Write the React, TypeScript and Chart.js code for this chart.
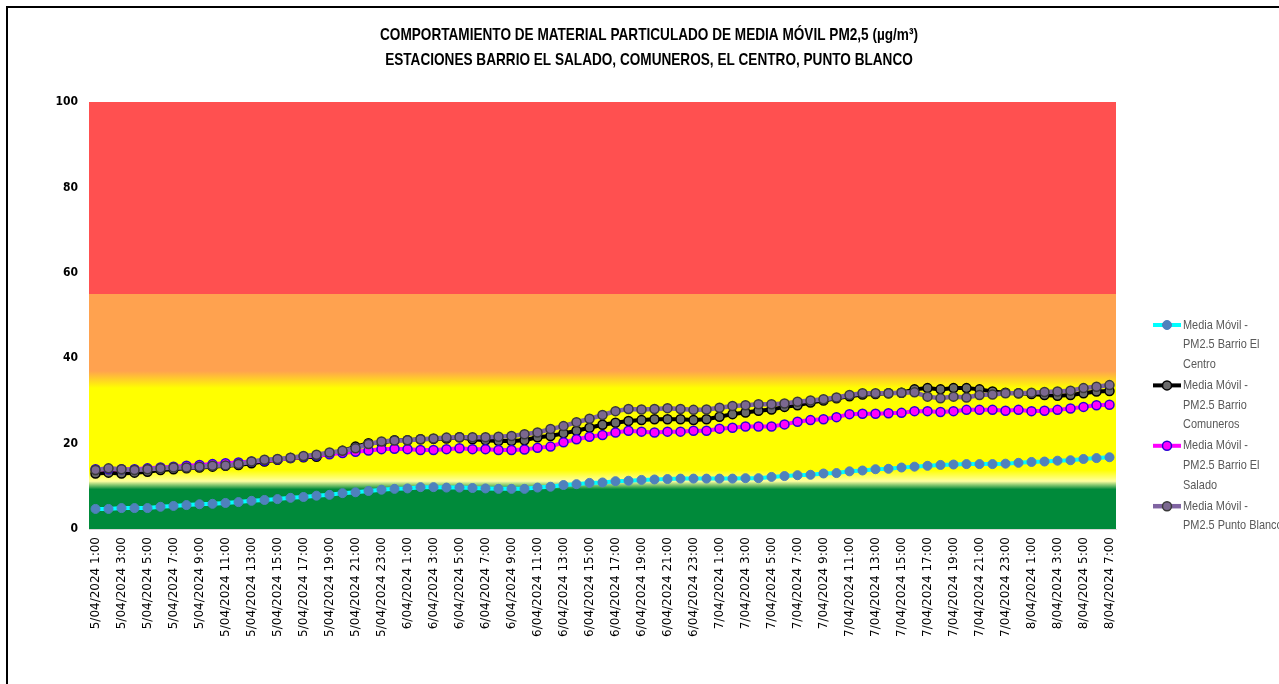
import React, { useEffect, useRef } from 'react';
import { Chart, registerables } from 'chart.js';

Chart.register(...registerables);

const TITLE_LINES = [
  'COMPORTAMIENTO DE MATERIAL PARTICULADO DE MEDIA MÓVIL PM2,5 (µg/m³)',
  'ESTACIONES BARRIO EL SALADO, COMUNEROS, EL CENTRO, PUNTO BLANCO',
];

const CATEGORIES = [
  '5/04/2024 1:00', '5/04/2024 2:00', '5/04/2024 3:00', '5/04/2024 4:00', '5/04/2024 5:00', '5/04/2024 6:00',
  '5/04/2024 7:00', '5/04/2024 8:00', '5/04/2024 9:00', '5/04/2024 10:00', '5/04/2024 11:00', '5/04/2024 12:00',
  '5/04/2024 13:00', '5/04/2024 14:00', '5/04/2024 15:00', '5/04/2024 16:00', '5/04/2024 17:00', '5/04/2024 18:00',
  '5/04/2024 19:00', '5/04/2024 20:00', '5/04/2024 21:00', '5/04/2024 22:00', '5/04/2024 23:00',
  '6/04/2024 0:00', '6/04/2024 1:00', '6/04/2024 2:00', '6/04/2024 3:00', '6/04/2024 4:00', '6/04/2024 5:00',
  '6/04/2024 6:00', '6/04/2024 7:00', '6/04/2024 8:00', '6/04/2024 9:00', '6/04/2024 10:00', '6/04/2024 11:00',
  '6/04/2024 12:00', '6/04/2024 13:00', '6/04/2024 14:00', '6/04/2024 15:00', '6/04/2024 16:00', '6/04/2024 17:00',
  '6/04/2024 18:00', '6/04/2024 19:00', '6/04/2024 20:00', '6/04/2024 21:00', '6/04/2024 22:00', '6/04/2024 23:00',
  '7/04/2024 0:00', '7/04/2024 1:00', '7/04/2024 2:00', '7/04/2024 3:00', '7/04/2024 4:00', '7/04/2024 5:00',
  '7/04/2024 6:00', '7/04/2024 7:00', '7/04/2024 8:00', '7/04/2024 9:00', '7/04/2024 10:00', '7/04/2024 11:00',
  '7/04/2024 12:00', '7/04/2024 13:00', '7/04/2024 14:00', '7/04/2024 15:00', '7/04/2024 16:00', '7/04/2024 17:00',
  '7/04/2024 18:00', '7/04/2024 19:00', '7/04/2024 20:00', '7/04/2024 21:00', '7/04/2024 22:00', '7/04/2024 23:00',
  '8/04/2024 0:00', '8/04/2024 1:00', '8/04/2024 2:00', '8/04/2024 3:00', '8/04/2024 4:00', '8/04/2024 5:00',
  '8/04/2024 6:00', '8/04/2024 7:00',
];

const CENTRO = [
  4.7, 4.7, 4.9, 4.9, 4.9, 5.2, 5.4, 5.6, 5.8, 5.9, 6.1, 6.3, 6.6, 6.8, 7.0, 7.3, 7.5, 7.8, 8.0, 8.4,
  8.6, 8.9, 9.2, 9.4, 9.5, 9.8,
  9.8, 9.7, 9.7, 9.6, 9.5, 9.4, 9.4, 9.4, 9.7, 9.9, 10.3, 10.5, 10.8, 10.9, 11.2, 11.3, 11.5, 11.6, 11.7,
  11.8, 11.8, 11.8, 11.8, 11.8, 11.9, 11.9,
  12.2, 12.4, 12.6, 12.7, 13.0, 13.1, 13.5, 13.7, 14.0, 14.1, 14.4, 14.6, 14.8, 15.0, 15.1, 15.2, 15.2,
  15.2, 15.3, 15.5, 15.7, 15.8, 16.0, 16.1, 16.4, 16.6, 16.8,
];

const COMUNEROS = [
  13.0, 13.2, 13.0, 13.2, 13.4, 13.8, 14.0, 14.2, 14.4, 14.6, 14.8, 15.0, 15.4, 15.8, 16.2, 16.6, 16.8,
  16.9, 17.7, 18.3, 19.3, 20.1, 20.2, 20.8, 20.8, 21.0,
  21.1, 21.2, 21.5, 21.0, 20.8, 20.6, 20.6, 20.8, 21.5, 21.8, 22.4, 23.0, 23.7, 24.4, 24.9, 25.3, 25.5,
  25.7, 25.7, 25.7, 25.5, 25.7, 26.3, 26.9, 27.3, 27.7,
  28.0, 28.6, 29.0, 29.6, 30.1, 30.6, 31.1, 31.5, 31.6, 31.8, 31.9, 32.7, 33.0, 32.7, 33.0, 33.0, 32.7,
  32.2, 31.9, 31.8, 31.6, 31.4, 31.2, 31.4, 31.8, 32.2, 32.3,
];

const SALADO = [
  14.0, 14.0, 14.0, 14.0, 14.2, 14.4, 14.6, 14.8, 15.0, 15.2, 15.4, 15.6, 15.8, 16.0, 16.3, 16.6, 16.9,
  17.2, 17.5, 17.8, 18.1, 18.4, 18.7, 18.8, 18.7, 18.5,
  18.5, 18.7, 18.9, 18.7, 18.7, 18.5, 18.5, 18.6, 19.0, 19.3, 20.3, 21.0, 21.6, 22.0, 22.6, 23.0, 22.8,
  22.6, 22.8, 22.8, 23.0, 23.0, 23.5, 23.7, 24.0, 24.0,
  24.0, 24.5, 25.1, 25.5, 25.7, 26.2, 26.9, 27.0, 27.0, 27.1, 27.2, 27.6, 27.6, 27.4, 27.6, 27.9, 27.9,
  27.9, 27.7, 27.9, 27.6, 27.7, 27.9, 28.2, 28.6, 29.0, 29.1,
];

const PUNTO_BLANCO = [
  13.8, 14.2, 14.0, 13.8, 14.0, 14.2, 14.4, 14.4, 14.6, 14.8, 14.9, 15.2, 15.8, 16.2, 16.4, 16.7, 17.1,
  17.4, 17.9, 18.3, 18.9, 19.9, 20.5, 20.7, 20.8, 21.0,
  21.2, 21.4, 21.5, 21.5, 21.5, 21.6, 21.8, 22.2, 22.6, 23.4, 24.1, 25.0, 25.8, 26.7, 27.6, 28.1, 28.0,
  28.1, 28.3, 28.1, 27.9, 28.0, 28.4, 28.8, 29.0, 29.2,
  29.2, 29.4, 29.8, 30.1, 30.4, 30.8, 31.4, 31.8, 31.8, 31.8, 31.9, 32.0, 31.0, 30.6, 31.0, 30.8, 31.4,
  31.5, 31.8, 31.8, 31.9, 32.1, 32.2, 32.4, 33.0, 33.3, 33.7,
];

const LEGEND_CENTRO = ['Media Móvil -', 'PM2.5 Barrio El', 'Centro'];
const LEGEND_COMUNEROS = ['Media Móvil -', 'PM2.5 Barrio', 'Comuneros'];
const LEGEND_SALADO = ['Media Móvil -', 'PM2.5 Barrio El', 'Salado'];
const LEGEND_PUNTO = ['Media Móvil -', 'PM2.5 Punto Blanco'];

const Y_MIN = 0;
const Y_MAX = 100;
const Y_STEP = 20;

// air-quality background: value at which each colour stop sits
const BAND_VALUES = [0, 9.3, 11.2, 13.8, 33.0, 37.0, 55.0, 55.0, 100];
const BAND_COLORS = ['#008A3A', '#008A3A', '#FFFFA0', '#FFFF00', '#FFFF00', '#FFA24F', '#FFA24F', '#FF5050', '#FF5050'];

const bandPlugin = {
  id: 'bands',
  beforeDraw(chart: any) {
    const { ctx, chartArea: a, scales } = chart;
    const y = scales.y;
    const y0 = y.getPixelForValue(Y_MIN);
    const y1 = y.getPixelForValue(Y_MAX);
    const g = ctx.createLinearGradient(0, y0, 0, y1);
    BAND_VALUES.forEach((v, i) => g.addColorStop((v - Y_MIN) / (Y_MAX - Y_MIN), BAND_COLORS[i]));
    ctx.save();
    ctx.fillStyle = g;
    ctx.fillRect(a.left, y1, a.right - a.left, y0 - y1);
    ctx.restore();
  },
};

const decorPlugin = {
  id: 'decor',
  afterDraw(chart: any) {
    const { ctx, chartArea: a } = chart;
    ctx.save();
    // title
    ctx.fillStyle = '#000';
    ctx.textAlign = 'center';
    ctx.textBaseline = 'alphabetic';
    ctx.font = 'bold 17px "Liberation Sans", sans-serif';
    const sx = 538 / ctx.measureText(TITLE_LINES[0]).width;
    TITLE_LINES.forEach((t, i) => {
      ctx.save();
      ctx.translate(641, 32 + i * 24.5);
      ctx.scale(sx, 1);
      ctx.fillText(t, 0, 0);
      ctx.restore();
    });

    // legend
    const items = [
      { lines: LEGEND_CENTRO, ds: chart.data.datasets[0] },
      { lines: LEGEND_COMUNEROS, ds: chart.data.datasets[1] },
      { lines: LEGEND_SALADO, ds: chart.data.datasets[2] },
      { lines: LEGEND_PUNTO, ds: chart.data.datasets[3] },
    ];
    ctx.font = '13px "Liberation Sans", sans-serif';
    const lsx = 65 / ctx.measureText('Media Móvil -').width;
    const x0 = a.right + 37;
    const x1 = a.right + 65;
    items.forEach((it, k) => {
      const yTop = 317 + k * 60.4;
      ctx.strokeStyle = it.ds.borderColor;
      ctx.lineWidth = it.ds.borderWidth;
      ctx.beginPath();
      ctx.moveTo(x0, yTop);
      ctx.lineTo(x1, yTop);
      ctx.stroke();
      ctx.beginPath();
      ctx.arc((x0 + x1) / 2, yTop, it.ds.pointRadius, 0, Math.PI * 2);
      ctx.fillStyle = it.ds.pointBackgroundColor;
      ctx.fill();
      ctx.lineWidth = it.ds.pointBorderWidth;
      ctx.strokeStyle = it.ds.pointBorderColor;
      ctx.stroke();
      ctx.fillStyle = '#595959';
      ctx.textAlign = 'left';
      ctx.textBaseline = 'middle';
      it.lines.forEach((ln, j) => {
        ctx.save();
        ctx.translate(x1 + 2, yTop + j * 19.6);
        ctx.scale(lsx, 1);
        ctx.fillText(ln, 0, 0);
        ctx.restore();
      });
    });
    ctx.restore();
  },
};

export default function App() {
  const ref = useRef<HTMLCanvasElement>(null);
  useEffect(() => {
    const canvas = ref.current;
    if (!canvas) return;
    const common = { tension: 0, pointRadius: 4.5, pointHoverRadius: 4.5, fill: false };
    const chart = new Chart(canvas, {
      type: 'line',
      data: {
        labels: CATEGORIES,
        datasets: [
          {
            ...common,
            label: LEGEND_CENTRO.join(' '),
            data: CENTRO,
            borderColor: '#00FFFF',
            borderWidth: 4,
            pointBackgroundColor: '#4F81BD',
            pointBorderColor: '#4F81BD',
            pointBorderWidth: 1,
            order: 4,
          },
          {
            ...common,
            label: LEGEND_COMUNEROS.join(' '),
            data: COMUNEROS,
            borderColor: '#000000',
            borderWidth: 4,
            pointBackgroundColor: '#6B6B6B',
            pointBorderColor: '#000000',
            pointBorderWidth: 1.5,
            order: 3,
          },
          {
            ...common,
            label: LEGEND_SALADO.join(' '),
            data: SALADO,
            borderColor: '#FF00FF',
            borderWidth: 4,
            pointBackgroundColor: '#FF00FF',
            pointBorderColor: '#2B00D4',
            pointBorderWidth: 1.5,
            order: 2,
          },
          {
            ...common,
            label: LEGEND_PUNTO.join(' '),
            data: PUNTO_BLANCO,
            borderColor: '#8064A2',
            borderWidth: 4.5,
            pointBackgroundColor: '#7B6890',
            pointBorderColor: '#3A3A3A',
            pointBorderWidth: 1.5,
            order: 1,
          },
        ],
      },
      options: {
        responsive: false,
        animation: false,
        devicePixelRatio: 1,
        layout: { padding: { left: 0, right: 163, top: 94, bottom: 5 } },
        plugins: {
          legend: { display: false },
          title: { display: false },
          tooltip: { enabled: false },
        },
        scales: {
          x: {
            offset: true,
            grid: { display: false, drawTicks: false },
            border: { display: true, color: '#D9D9D9', width: 1 },
            ticks: {
              autoSkip: false,
              minRotation: 90,
              maxRotation: 90,
              padding: 8,
              color: '#000',
              font: { family: '"DejaVu Sans"', size: 12 },
              callback: (_v: any, i: number) => (i % 2 === 0 ? CATEGORIES[i] : ''),
            },
            afterFit: (s: any) => {
              s.height = 150;
            },
          },
          y: {
            min: Y_MIN,
            max: Y_MAX,
            grid: { display: false, drawTicks: false },
            border: { display: false },
            ticks: {
              stepSize: Y_STEP,
              padding: 11,
              color: '#000',
              font: { family: '"Liberation Sans Narrow", "DejaVu Sans Condensed", sans-serif', size: 12, weight: 'bold' },
            },
            afterFit: (s: any) => {
              s.width = 81;
            },
          },
        },
      },
      plugins: [bandPlugin, decorPlugin],
    } as any);
    return () => chart.destroy();
  }, []);

  return (
    <div
      style={{
        position: 'absolute',
        left: 6,
        top: 6,
        borderLeft: '2px solid #000',
        borderTop: '2px solid #000',
        background: '#fff',
      }}
    >
      <canvas ref={ref} width={1271} height={676} style={{ display: 'block' }} />
    </div>
  );
}
